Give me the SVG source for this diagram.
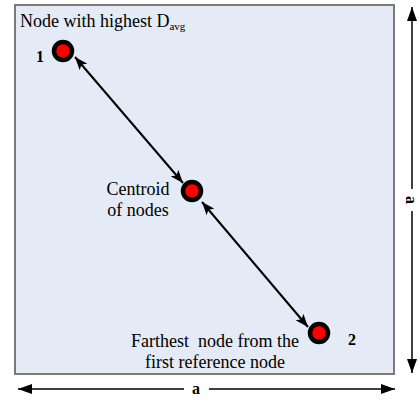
<svg xmlns="http://www.w3.org/2000/svg" width="418" height="403" viewBox="0 0 418 403">
<defs>
<style>
text{font-family:"Liberation Serif","Times New Roman","DejaVu Serif",serif;fill:#000}
.lbl{font-size:18px}
.num{font-size:16px;font-weight:bold}
.node{fill:#ff0000;stroke:#000;stroke-width:4.5}
.conn{stroke:#000;stroke-width:2;fill:none}
.dim{stroke:#000;stroke-width:1.5;fill:none}
</style>
<marker id="ah" viewBox="0 0 13 10" refX="13" refY="5" markerWidth="13" markerHeight="10" markerUnits="userSpaceOnUse" orient="auto-start-reverse">
<path d="M0,0 L13,5 L0,10 L3,5 Z" fill="#000"/>
</marker>
<marker id="dh" viewBox="0 0 14 10" refX="14" refY="5" markerWidth="14" markerHeight="10" markerUnits="userSpaceOnUse" orient="auto-start-reverse">
<path d="M0,0 L14,5 L0,10 Z" fill="#000"/>
</marker>
</defs>
<rect id="area" x="15" y="5" width="379" height="369" fill="#e4eaf6" stroke="#7a7a7a" stroke-width="2"/>
<g id="connectors">
<line class="conn" x1="75" y1="57" x2="183" y2="183" marker-start="url(#ah)" marker-end="url(#ah)"/>
<line class="conn" x1="202" y1="202" x2="308" y2="327" marker-start="url(#ah)" marker-end="url(#ah)"/>
<line class="dim" x1="18" y1="389" x2="184" y2="389" marker-start="url(#dh)"/>
<line class="dim" x1="209" y1="389" x2="395" y2="389" marker-end="url(#dh)"/>
<line class="dim" x1="412" y1="7" x2="412" y2="189" marker-start="url(#dh)"/>
<line class="dim" x1="412" y1="211" x2="412" y2="373" marker-end="url(#dh)"/>
</g>
<g id="node1">
<circle class="node" cx="63" cy="51" r="9"/>
<text class="num" x="40" y="62" text-anchor="middle">1</text>
<text class="lbl" x="20" y="27">Node with highest D<tspan font-size="11" dy="3">avg</tspan></text>
</g>
<g id="centroid">
<circle class="node" cx="192" cy="191" r="9"/>
<text class="lbl" x="138" y="195" text-anchor="middle">Centroid</text>
<text class="lbl" x="138" y="216" text-anchor="middle">of nodes</text>
</g>
<g id="node2">
<circle class="node" cx="319" cy="333" r="9"/>
<text class="num" x="352" y="345" text-anchor="middle">2</text>
<text class="lbl" x="215" y="347" text-anchor="middle" xml:space="preserve">Farthest  node from the</text>
<text class="lbl" x="215" y="368" text-anchor="middle">first reference node</text>
</g>
<g id="dimensions">
<text class="num" x="196" y="394" text-anchor="middle">a</text>
<text class="num" x="0" y="0" font-size="15" text-anchor="middle" dominant-baseline="central" transform="translate(411,200) rotate(90)">a</text>
</g>
</svg>
